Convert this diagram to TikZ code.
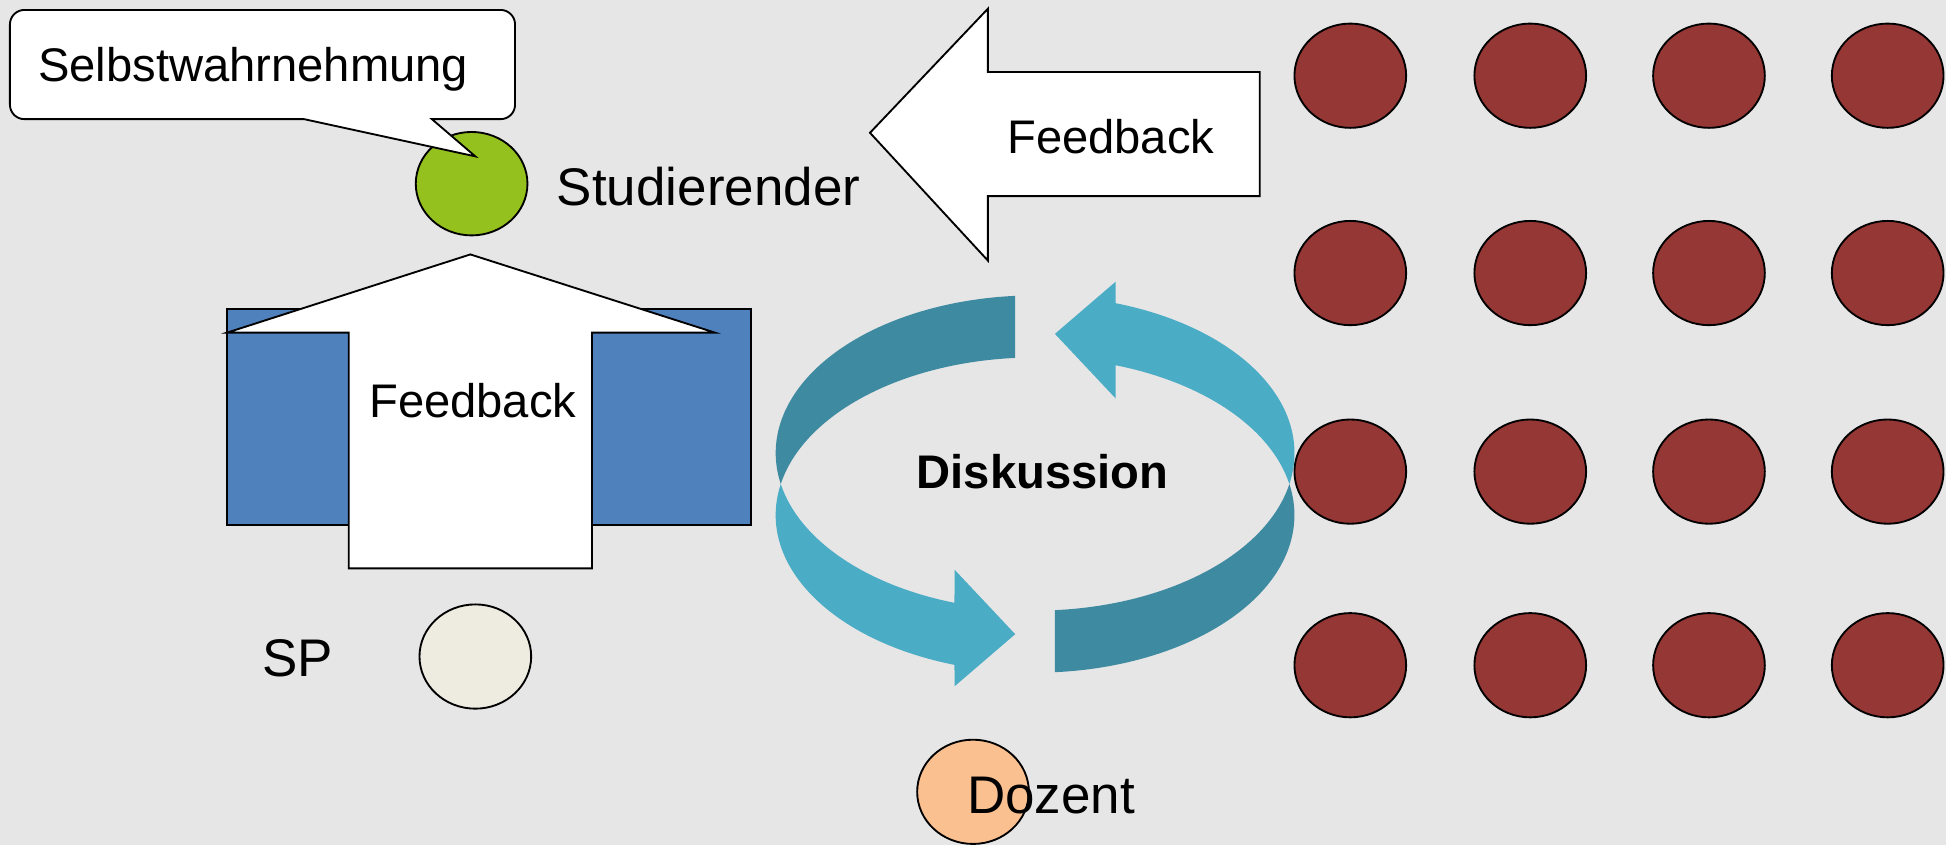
\documentclass[tikz,border=0pt]{standalone}
\usepackage{fontspec}
\setmainfont{Liberation Sans}
\usetikzlibrary{shapes.geometric,calc}

\definecolor{bggray}{RGB}{230,230,230}
\definecolor{deskblue}{RGB}{79,129,189}
\definecolor{studgreen}{RGB}{149,193,31}
\definecolor{spbeige}{RGB}{238,236,225}
\definecolor{audred}{RGB}{149,55,53}
\definecolor{dozorange}{RGB}{250,192,144}
\definecolor{ringdark}{RGB}{62,138,160}
\definecolor{ringlight}{RGB}{75,172,198}

\begin{document}
\begin{tikzpicture}[x=0.6pt,y=0.6pt,line width=0.9pt,
  blob/.style={ellipse,draw=black,inner sep=0pt,minimum width=54pt,minimum height=50.4pt},
  lbl/.style={font=\fontsize{22.8pt}{27pt}\selectfont,inner sep=0pt},
  biglbl/.style={font=\fontsize{25.6pt}{30pt}\selectfont,inner sep=0pt},
  blockarrow/.style={draw=black,fill=white},
  band/.style={x radius=209,y radius=127}]

\fill[bggray] (0,0) rectangle (1568,-681);
\useasboundingbox (0,0) rectangle (1568,-681);

% desk with the upward feedback arrow
\draw[fill=deskblue] (183,-249) rectangle (605,-423);
\draw[blockarrow] (281,-458) -- (281,-268) -- (183,-268) -- (379,-205)
  -- (576,-268) -- (477,-268) -- (477,-458) -- cycle;
\node[lbl] (fbup) at (381,-323) {Feedback};

\node[blob,fill=studgreen,minimum height=50pt] (stud) at (380,-148) {};
\node[biglbl,anchor=west] (studlbl) at (448,-150) {Studierender};

% speech bubble
\draw[fill=white] (245,-96) [rounded corners=7pt] -- (8,-96) -- (8,-8) -- (415,-8)
  -- (415,-96) [sharp corners] -- (348,-96) -- (383,-126) -- cycle;
\node[lbl,anchor=base west] (selbst) at (30,-66) {Selbstwahrnehmung};

\node[blob,fill=spbeige] (sp) at (383,-529) {};
\node[biglbl] (splbl) at (240,-530) {SP};

% feedback from the group
\draw[blockarrow] (1015,-58) -- (796,-58) -- (796,-7) -- (701,-107)
  -- (796,-210) -- (796,-158) -- (1015,-158) -- cycle;
\node[lbl] (fbleft) at (895,-110) {Feedback};

\foreach \i/\x in {1/1088,2/1233,3/1377,4/1521}
  \foreach \j/\y in {1/61,2/220,3/380,4/536}
    \node[blob,fill=audred] (aud\i\j) at (\x,-\y) {};

% discussion cycle
\coordinate (ringA) at (834,-365);
\coordinate (ringB) at (834,-415);
\fill[ringdark] ($(ringA)+(94.4:209 and 127)$) arc[band,start angle=94.4,end angle=191.4]
  -- ($(ringB)+(168.6:209 and 127)$) arc[band,start angle=168.6,end angle=94.4] -- cycle;
\fill[ringlight] ($(ringA)+(191.4:209 and 127)$) arc[band,start angle=191.4,end angle=251.9]
  -- (769.1,-459) -- (818,-511) -- (769.1,-553)
  -- ($(ringB)+(251.9:209 and 127)$) arc[band,start angle=251.9,end angle=168.6] -- cycle;
\fill[ringlight] ($(ringB)+(71.9:209 and 127)$) -- (898.9,-321) -- (850,-269) -- (898.9,-227)
  -- ($(ringA)+(71.9:209 and 127)$) arc[band,start angle=71.9,end angle=-11.4]
  -- ($(ringB)+(11.4:209 and 127)$) arc[band,start angle=11.4,end angle=71.9] -- cycle;
\fill[ringdark] ($(ringA)+(-11.4:209 and 127)$) arc[band,start angle=-11.4,end angle=-85.6]
  -- ($(ringB)+(-85.6:209 and 127)$) arc[band,start angle=-85.6,end angle=11.4] -- cycle;
\node[lbl,font=\fontsize{22.8pt}{27pt}\selectfont\bfseries] (disk) at (840,-380) {Diskussion};

\node[blob,fill=dozorange] (doz) at (784,-638) {};
\node[biglbl] (dozlbl) at (847,-641) {Dozent};

\end{tikzpicture}
\end{document}
